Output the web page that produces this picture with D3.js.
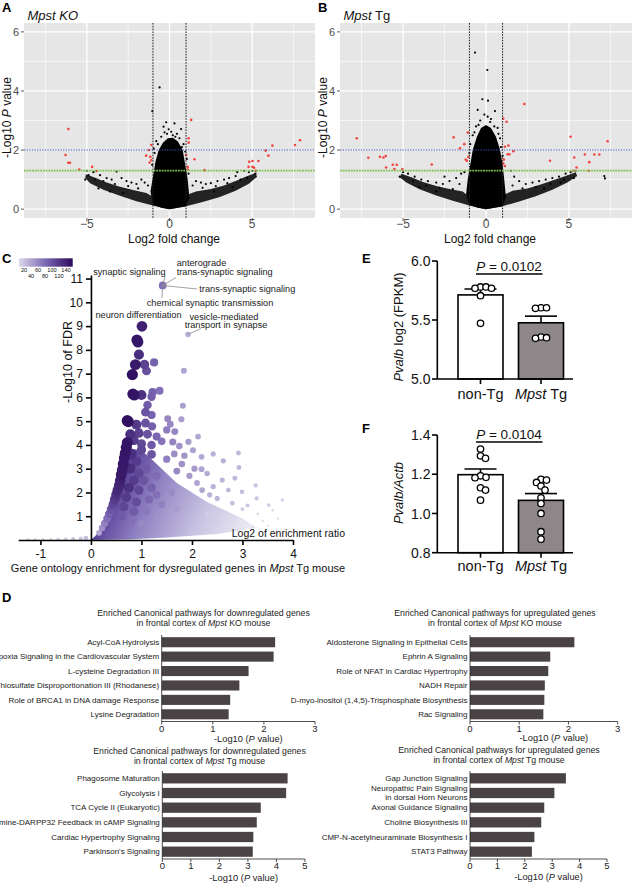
<!DOCTYPE html>
<html><head><meta charset="utf-8">
<script src="https://cdn.jsdelivr.net/npm/d3@7"></script>
<style>body{margin:0;background:#fff}svg{display:block}</style>
</head><body><svg id="chart" width="632" height="885"></svg>
<script>
const FONT='"Liberation Sans", Arial, Helvetica, sans-serif';

// ===================== DATA =====================
// Panel A  (Mpst KO volcano)  [log2FC, -log10 P]
const aRed=[[-6.12,2.71],[-6.29,1.83],[-6.12,1.57],[-6.02,1.57],[-5.46,1.34],[-4.68,1.43],[-4.42,1.29],
 [-1.10,2.17],[-1.24,2.0],[-1.41,1.81],[-1.16,1.77],[-1.20,1.58],[-1.10,1.66],
 [1.31,3.02],[1.16,2.40],[1.16,2.25],[1.51,1.69],[1.10,1.43],[1.10,1.34],[2.11,1.32],[1.0,1.83],
 [6.22,2.15],[7.59,2.17],[7.89,2.33],[5.82,1.98],[5.98,1.81],[5.38,1.63],[4.82,1.60],[5.02,1.63],[5.02,1.43],[5.12,1.40],[4.78,1.43],[5.22,1.30]];
const aBlack=[[-0.6,4.12],[-1.04,3.32],[-0.2,2.94],[-0.36,2.79],[0.3,2.9],[0.7,2.71],[0.2,2.5],[-0.3,2.6],[0.45,2.55],[-0.05,2.7],[0.1,2.62],[-0.5,2.45],[0.6,2.4],[0.85,2.2],[-0.8,2.3],[-0.95,2.05],[0.95,1.95],
 [-0.7,2.2],[0.75,2.1],[-0.15,2.55],[0.35,2.45],[-0.9,1.9],[1.05,1.7],[-1.05,1.5],[1.15,1.2],
 [-3.2,1.27],[-5.0,1.3],[-4.6,1.25],[-4.2,1.15],[-3.8,1.05],[-3.5,1.0],[-2.9,1.05],[-2.6,0.95],[-2.3,0.9],[-2.0,0.85],[-1.7,1.0],[-1.5,0.9],[-4.9,1.15],[-5.1,1.0],[-3.6,0.6],[-2.8,0.55],[-4.3,0.7],
 [-4.0,0.95],[-3.3,0.85],[-2.5,0.78],[-1.9,0.7],[-1.3,0.8],[-4.5,1.0],
 [4.1,1.25],[4.5,1.3],[4.0,1.12],[3.6,1.05],[3.3,1.0],[2.9,0.95],[2.5,0.88],[2.2,0.85],[1.9,0.9],[1.6,0.95],[5.0,1.3],[4.8,1.25],[5.2,1.2],[3.8,0.75],[2.7,0.6],
 [4.3,1.0],[3.5,0.88],[2.8,0.78],[2.0,0.72],[1.4,0.8],[4.7,1.05]];
const aCore=[[0,0],[0.5,0.05],[1.0,0.1],[1.2,0.4],[1.1,1.0],[0.95,1.5],[0.8,2.0],[0.5,2.3],[0.2,2.42],[-0.1,2.4],[-0.4,2.25],[-0.65,2.0],[-0.85,1.6],[-1.0,1.1],[-1.15,0.6],[-1.0,0.15],[-0.5,0.05]];
const aLeftArm=[[0,0],[-1,0.12],[-2,0.27],[-3,0.45],[-4,0.66],[-4.8,0.88],[-5.1,1.05],[-5.05,1.18],[-4.5,1.06],[-3.8,0.9],[-3,0.76],[-2.2,0.65],[-1.4,0.55],[-1.1,0.45]];
const aRightArm=[[0,0],[1,0.1],[2,0.24],[3,0.4],[4,0.62],[4.8,0.86],[5.3,1.1],[5.2,1.22],[4.6,1.1],[4,0.95],[3.3,0.8],[2.5,0.68],[1.6,0.6],[1.15,0.5]];

// Panel B  (Mpst Tg volcano)
const bRed=[[-7.79,2.40],[-7.09,1.74],[-6.39,1.77],[-6.18,1.75],[-6.04,1.80],[-6.02,1.41],[-5.62,1.50],[-5.38,1.50],[-5.52,1.36],[-5.04,1.36],[-3.27,1.51],
 [-1.95,2.43],[-1.10,2.59],[-1.31,2.20],[-1.57,2.06],[-1.22,1.68],[-1.16,1.64],[-1.06,1.77],
 [2.31,3.56],[1.04,3.07],[1.24,2.96],[1.35,2.15],[1.41,1.86],[1.30,1.86],[1.65,1.96],[1.14,2.11],[1.08,1.68],[1.04,1.55],[1.14,1.46],
 [3.86,1.64],[5.10,2.45],[5.32,1.75],[5.96,1.85],[6.53,1.85],[6.83,1.85],[6.22,1.59],[6.20,1.30],[7.33,2.30],[5.46,1.41],[5.26,1.30]];
const bBlack=[[-0.66,5.30],[0.08,4.71],[-0.22,3.72],[0.12,3.67],[-0.5,3.36],[0.54,3.32],[0.1,3.13],[-0.35,3.0],[0.3,3.05],[-0.1,3.2],[0.25,2.95],[-0.6,2.8],[0.7,2.75],[-0.8,2.5],[0.85,2.4],[-0.95,2.2],[0.9,2.1],
 [-0.45,2.85],[0.5,2.8],[-0.7,2.6],[0.75,2.55],[-1.0,1.9],[1.0,1.8],
 [7.13,1.12],[7.17,1.04],
 [-5.0,1.25],[-4.7,1.2],[-4.3,1.1],[-3.9,1.0],[-3.5,0.95],[-3.0,0.9],[-2.6,0.85],[-2.2,0.95],[-1.8,1.05],[-1.5,1.2],[-5.2,1.1],[-4.0,0.75],[-3.0,0.6],[-2.5,1.1],[-1.3,1.25],
 [-4.4,0.95],[-3.6,0.8],[-2.8,0.72],[-2.0,0.68],[-1.6,0.85],
 [5.4,1.3],[5.1,1.25],[4.8,1.2],[4.4,1.1],[4.0,1.05],[3.6,1.0],[3.2,0.95],[2.8,0.9],[2.4,0.85],[2.0,0.95],[1.7,1.1],[4.5,0.9],[3.5,0.7],[5.3,1.05],[1.5,1.3],
 [4.7,1.0],[3.9,0.85],[3.0,0.75],[2.2,0.7],[1.6,0.8]];
const bCore=[[0,0],[0.5,0.05],[1.0,0.1],[1.2,0.4],[1.1,1.0],[1.0,1.5],[0.85,2.0],[0.6,2.45],[0.3,2.75],[0,2.85],[-0.3,2.75],[-0.55,2.45],[-0.8,2.0],[-0.95,1.5],[-1.1,1.0],[-1.2,0.5],[-1.0,0.15],[-0.5,0.05]];
const bLeftArm=[[0,0],[-1,0.12],[-2,0.28],[-3,0.46],[-4,0.67],[-4.8,0.9],[-5.2,1.08],[-5.1,1.2],[-4.5,1.08],[-3.8,0.92],[-3,0.78],[-2.2,0.68],[-1.4,0.6],[-1.1,0.45]];
const bRightArm=[[0,0],[1,0.1],[2,0.26],[3,0.44],[4,0.66],[4.9,0.9],[5.5,1.12],[5.4,1.25],[4.8,1.12],[4,0.97],[3.3,0.83],[2.5,0.7],[1.6,0.62],[1.15,0.5]];

const volcXTicks=[-5,0,5];
const volcYTicks=[0,2,4,6];

// Panel C  GO enrichment  [log2 enrichment ratio, -log10 FDR, gene count]
const goPoints=[
 [1.42,10.71,70],[1.92,8.65,35],[1.01,8.99,132],
 [0.91,8.42,140],[0.93,8.33,138],[0.95,7.8,120],[0.88,7.38,138],[1.06,7.38,105],[1.25,7.47,78],[0.82,6.96,145],[1.1,7.12,92],[1.84,7.12,40],
 [0.83,6.14,142],[0.86,6.1,138],[1.0,6.1,118],[1.2,6.03,82],[1.22,6.22,78],[1.36,6.28,70],
 [1.12,5.68,84],[1.08,5.38,90],[1.2,5.26,78],[1.52,5.1,56],[1.57,4.87,55],[1.82,5.65,42],[1.79,5.08,44],
 [0.72,5.02,145],[0.74,4.98,142],[0.9,4.85,112],[1.08,4.92,92],[1.21,4.78,80],[1.5,4.63,62],[1.66,4.56,56],
 [0.78,4.45,120],[0.95,4.5,105],[1.12,4.45,90],[1.3,4.35,75],[1.4,4.15,68],[1.62,4.12,58],[1.93,4.13,45],[2.12,4.35,38],
 [0.85,4.2,110],[1.0,4.05,98],[1.2,4.0,85],[1.75,3.95,50],[1.65,3.62,52],[1.85,3.55,48],[2.02,3.78,42],[2.19,3.5,38],[2.42,3.62,32],[2.92,3.66,28],
 [1.5,3.4,60],[1.8,3.2,50],[2.05,3.0,45],[2.19,2.98,40],[2.62,3.33,32],[2.93,3.05,28],[2.3,2.8,35],
 [2.85,2.6,28],[2.6,2.52,30],[2.42,2.25,32],[3.26,2.3,22],[2.72,2.1,28],[2.35,1.9,32],[2.99,2.03,25],[3.28,1.75,20],[3.52,1.47,16],[3.79,1.68,14],
 [2.1,2.4,40],[1.95,2.7,45],[1.7,2.9,55],[2.2,2.1,38],[2.5,1.75,30],[2.8,1.55,25],[3.1,1.45,20],[3.0,1.3,18],
 [0.72,4.1,140],[0.7,3.9,142],[0.68,3.65,140],[0.66,3.45,138],[0.64,3.2,140],[0.62,2.95,136],[0.6,2.75,138],[0.58,2.5,132],[0.56,2.3,128],[0.53,2.1,125],[0.5,1.9,118],[0.47,1.7,110],[0.44,1.5,100],[0.4,1.3,90],[0.36,1.1,80],[0.32,0.9,70],[0.27,0.7,60],[0.22,0.5,50],[0.16,0.3,40],
 [0.8,3.6,120],[0.9,3.3,110],[0.78,3.0,120],[0.95,2.8,100],[0.85,2.5,110],[1.05,2.5,90],[0.75,2.2,118],[0.95,2.1,100],[1.2,2.2,80],[0.7,1.8,110],[0.9,1.6,95],[1.15,1.7,75],[0.65,1.4,100],[0.85,1.2,85],[1.1,1.2,65],[1.4,1.5,60],[1.3,1.9,70],[1.6,2.0,55],[0.6,1.0,85],[0.8,0.8,70],[1.0,0.7,55],[1.3,0.9,50],[1.7,1.3,45],[1.1,3.0,85],[1.3,2.7,72],[1.0,3.8,100],[1.2,3.6,88],
 [-0.1,0.08,25],[-0.2,0.06,20],[-0.35,0.05,18],[-0.5,0.04,15],[-0.65,0.03,14],[-0.8,0.03,12],[-0.95,0.02,12],[-1.1,0.02,10],[-1.25,0.02,10],
 [3.3,1.1,8],[3.6,1.25,8],[3.4,0.8,6],[3.7,0.9,6],[3.2,0.55,6],[3.5,0.6,5],[2.9,0.4,6],[2.6,0.9,12],[2.3,1.1,15]];
// dense wedge outline of overlapping small terms
const goWedge=[[0,0],[0.1,0.2],[0.2,0.5],[0.3,0.8],[0.4,1.2],[0.5,1.8],[0.58,2.5],[0.65,3.2],[0.72,3.8],[0.8,3.85],[1.0,3.75],[1.15,3.5],[1.3,3.2],[1.5,2.8],[1.7,2.4],[2.0,2.0],[2.3,1.6],[2.6,1.3],[3.0,0.9],[3.3,0.5],[2.5,0.25],[1.5,0.1],[0.8,0.03]];
const goXTicks=[-1,0,1,2,3,4];
const goYTicks=[1,2,3,4,5,6,7,8,9,10,11];
const goLegendTicks=[20,40,60,80,100,120,140];

// Panel E
const eGroups=["non-Tg","Mpst Tg"];
const eNonTg=[5.78,5.78,5.769,5.769,5.706,5.472];
const eTg=[5.604,5.604,5.599,5.356,5.35,5.345];
const eTicks=[5.0,5.5,6.0];
// Panel F
const fNonTg=[1.3286,1.294,1.281,1.192,1.184,1.182,1.131,1.119,1.068];
const fTg=[1.174,1.170,1.158,1.140,1.119,1.080,1.051,1.0,0.907,0.869];
const fTicks=[0.8,1.0,1.2,1.4];

// Panel D
const d1Labels=["Acyl-CoA Hydrolysis","Hypoxia Signaling in the Cardiovascular System","L-cysteine Degradation III","Thiosulfate Disproportionation III (Rhodanese)","Role of BRCA1 in DNA damage Response","Lysine Degradation"];
const d1Values=[2.22,2.19,1.70,1.52,1.34,1.31];
const d2Labels=["Aldosterone Signaling in Epithelial Cells","Ephrin A Signaling","Role of NFAT in Cardiac Hypertrophy","NADH Repair","D-myo-inositol (1,4,5)-Trisphosphate Biosynthesis","Rac Signaling"];
const d2Values=[2.12,1.63,1.59,1.52,1.51,1.49];
const d3Labels=["Phagosome Maturation","Glycolysis I","TCA Cycle II (Eukaryotic)","Dopamine-DARPP32 Feedback in cAMP Signaling","Cardiac Hypertrophy Signaling","Parkinson's Signaling"];
const d3Values=[4.39,4.34,3.45,3.31,3.19,3.17];
const d4Labels=["Gap Junction Signaling","Neuropathic Pain Signaling\nin dorsal Horn Neurons","Axonal Guidance Signaling","Choline Biosynthesis III","CMP-N-acetylneuraminate Biosynthesis I","STAT3 Pathway"];
const d4Values=[3.50,3.08,2.71,2.60,2.35,2.26];

// ===================== DRAWING =====================
const svg=d3.select("#chart").style("font-family",FONT);
svg.append("rect").attr("width",632).attr("height",885).attr("fill","#fff");

function richText(sel, parts){ // parts: [text, italic]
  parts.forEach(p=>sel.append("tspan").text(p[0]).attr("font-style",p[1]?"italic":"normal"));
  return sel;
}
function panelLetter(t,x,y){
  svg.append("text").attr("x",x).attr("y",y).attr("font-size",13).attr("font-weight","bold").text(t);
}

function volcano(o){
  const x=d3.scaleLinear().domain([-8.8,8.8]).range([o.x0,o.x1]);
  const y=d3.scaleLinear().domain([-0.3,6.3]).range([218,23]);
  const g=svg.append("g");
  g.append("clipPath").attr("id","clip"+o.key).append("rect")
    .attr("x",o.x0).attr("y",23).attr("width",o.x1-o.x0).attr("height",195);
  g.append("rect").attr("x",o.x0).attr("y",23).attr("width",o.x1-o.x0).attr("height",195).attr("fill","#e6e6e6");
  const p=g.append("g").attr("clip-path",`url(#clip${o.key})`);
  const minorX=[-7.5,-2.5,2.5,7.5], minorY=[1,3,5];
  p.selectAll(".mx").data(minorX).join("line").attr("x1",d=>x(d)).attr("x2",d=>x(d)).attr("y1",23).attr("y2",218).attr("stroke","#fff").attr("stroke-width",0.6);
  p.selectAll(".my").data(minorY).join("line").attr("y1",d=>y(d)).attr("y2",d=>y(d)).attr("x1",o.x0).attr("x2",o.x1).attr("stroke","#fff").attr("stroke-width",0.6);
  p.selectAll(".Mx").data(volcXTicks).join("line").attr("x1",d=>x(d)).attr("x2",d=>x(d)).attr("y1",23).attr("y2",218).attr("stroke","#fff").attr("stroke-width",1.3);
  p.selectAll(".My").data(volcYTicks).join("line").attr("y1",d=>y(d)).attr("y2",d=>y(d)).attr("x1",o.x0).attr("x2",o.x1).attr("stroke","#fff").attr("stroke-width",1.3);
  const line=d3.line().x(d=>x(d[0])).y(d=>y(d[1]));
  [o.left,o.right].forEach(a=>p.append("path").attr("d",line(a)+"Z").attr("fill","#000").attr("fill-opacity",0.85));
  p.append("path").attr("d",line(o.core)+"Z").attr("fill","#000");
  p.selectAll(".bk").data(o.black).join("circle").attr("cx",d=>x(d[0])).attr("cy",d=>y(d[1])).attr("r",1.1).attr("fill","#000");
  p.selectAll(".rd").data(o.red).join("circle").attr("cx",d=>x(d[0])).attr("cy",d=>y(d[1])).attr("r",1.3).attr("fill","#f2443f");
  // thresholds
  [-1,1].forEach(v=>p.append("line").attr("x1",x(v)).attr("x2",x(v)).attr("y1",23).attr("y2",218).attr("stroke","#222").attr("stroke-width",1).attr("stroke-dasharray","1.6,1.2"));
  p.append("line").attr("x1",o.x0).attr("x2",o.x1).attr("y1",y(2)).attr("y2",y(2)).attr("stroke","#3d4aa8").attr("stroke-width",1.1).attr("stroke-dasharray","1.4,1.2");
  p.append("line").attr("x1",o.x0).attr("x2",o.x1).attr("y1",y(-Math.log10(0.05))).attr("y2",y(-Math.log10(0.05))).attr("stroke","#7cc24e").attr("stroke-width",1.8).attr("stroke-dasharray","1.8,0.9");
  // ticks
  volcYTicks.forEach(t=>{
    g.append("line").attr("x1",o.x0-3).attr("x2",o.x0).attr("y1",y(t)).attr("y2",y(t)).attr("stroke","#333").attr("stroke-width",0.8);
    g.append("text").attr("x",o.x0-5).attr("y",y(t)).attr("dy","0.36em").attr("text-anchor","end").attr("font-size",11).attr("fill","#4d4d4d").text(t);
  });
  volcXTicks.forEach(t=>{
    g.append("line").attr("x1",x(t)).attr("x2",x(t)).attr("y1",218).attr("y2",221).attr("stroke","#333").attr("stroke-width",0.8);
    g.append("text").attr("x",x(t)).attr("y",228).attr("text-anchor","middle").attr("font-size",12).attr("fill","#4d4d4d").text(t<0?"\u2212"+(-t):t);
  });
  g.append("text").attr("x",o.x0+150).attr("y",242.5).attr("text-anchor","middle").attr("font-size",12).attr("fill","#111").text("Log2 fold change");
  richText(g.append("text").attr("transform",`translate(${o.x0-13},117.5) rotate(-90)`).attr("text-anchor","middle").attr("font-size",12).attr("fill","#111"),
    [["-Log10 ",false],["P",true],[" value",false]]);
  richText(g.append("text").attr("x",o.x0+3.5).attr("y",20).attr("font-size",13).attr("fill","#111"),o.title);
}
volcano({key:"A",x0:24,x1:315,core:aCore,left:aLeftArm,right:aRightArm,black:aBlack,red:aRed,title:[["Mpst KO",true]]});
volcano({key:"B",x0:340,x1:632,core:bCore,left:bLeftArm,right:bRightArm,black:bBlack,red:bRed,title:[["Mpst",true],[" Tg",false]]});
panelLetter("A",2,12);
panelLetter("B",318,12);

// ---------- Panel C ----------
(function(){
  const x=d3.scaleLinear().domain([-1.44,4]).range([18.2,293]);
  const y=d3.scaleLinear().domain([0,11.15]).range([540,275]);
  const col=d3.scaleLinear().domain([10,75,150]).range(["#dcd8eb","#7a66b3","#2c0a5c"]).clamp(true);
  const rad=d3.scaleSqrt().domain([0,140]).range([0,5.5]);
  const g=svg.append("g");
  const defs=svg.append("defs");
  const wg=defs.append("linearGradient").attr("id","wedgeGrad").attr("gradientUnits","userSpaceOnUse")
    .attr("x1",x(0.5)).attr("y1",y(3)).attr("x2",x(3.2)).attr("y2",y(0.3));
  wg.append("stop").attr("offset",0).attr("stop-color","#4f3291");
  wg.append("stop").attr("offset",0.3).attr("stop-color","#8f82c2");
  wg.append("stop").attr("offset",0.65).attr("stop-color","#c9c3e2");
  wg.append("stop").attr("offset",1).attr("stop-color","#f0eef7");
  const line=d3.line().x(d=>x(d[0])).y(d=>y(d[1]));
  g.append("path").attr("d",line(goWedge)+"Z").attr("fill","url(#wedgeGrad)");
  const pts=goPoints.slice().sort((a,b)=>a[2]-b[2]);
  g.selectAll(".go").data(pts).join("circle").attr("cx",d=>x(d[0])).attr("cy",d=>y(d[1])).attr("r",d=>rad(d[2])).attr("fill",d=>col(d[2]));
  // axes
  const ya=g.append("g").attr("transform",`translate(${x(0)},0)`).call(d3.axisLeft(y).tickValues(goYTicks).tickSize(5).tickSizeOuter(0).tickPadding(3));
  const xa=g.append("g").attr("transform",`translate(0,${y(0)})`).call(d3.axisBottom(x).tickValues(goXTicks).tickSize(5).tickSizeOuter(0).tickPadding(4).tickFormat(d=>d<0?"-"+(-d):d));
  [ya,xa].forEach(a=>{a.selectAll("path,line").attr("stroke","#000").attr("stroke-width",1.6);a.selectAll("text").attr("font-size",12).attr("font-family",FONT).attr("fill","#111");});
  g.append("text").attr("transform",`translate(72,362) rotate(-90)`).attr("text-anchor","middle").attr("font-size",12.5).attr("fill","#111").text("-Log10 of FDR");
  g.append("text").attr("x",345).attr("y",536.5).attr("text-anchor","end").attr("font-size",10.5).attr("fill","#111").text("Log2 of enrichment ratio");
  richText(g.append("text").attr("x",178).attr("y",572).attr("text-anchor","middle").attr("font-size",11).attr("fill","#111"),
    [["Gene ontology enrichment for dysregulated genes in ",false],["Mpst",true],[" Tg mouse",false]]);
  // colour legend
  const lg=defs.append("linearGradient").attr("id","legGrad");
  lg.append("stop").attr("offset",0).attr("stop-color",col(10));
  lg.append("stop").attr("offset",0.5).attr("stop-color",col(75));
  lg.append("stop").attr("offset",1).attr("stop-color",col(150));
  g.append("rect").attr("x",19).attr("y",258.3).attr("width",53.7).attr("height",8.4).attr("fill","url(#legGrad)");
  const lx=d3.scaleLinear().domain([20,140]).range([24,66]);
  goLegendTicks.forEach((t,i)=>g.append("text").attr("x",lx(t)).attr("y",i%2?277.5:271.5).attr("text-anchor","middle").attr("font-size",5.6).attr("fill","#111").text(t));
  // annotations
  const A=[x(1.42),y(10.71)], V=[x(1.92),y(8.65)];
  const lines=[[A,[165,276]],[A,[176,277.5]],[A,[197,289]],[A,[162,298]],[V,[201,328.5]]];
  lines.forEach(l=>g.append("line").attr("x1",l[0][0]).attr("y1",l[0][1]).attr("x2",l[1][0]).attr("y2",l[1][1]).attr("stroke","#8a8a8a").attr("stroke-width",0.8));
  const ann=[["synaptic signaling",165.7,275,"end"],["anterograde",176.7,266,"start"],["trans-synaptic signaling",176.7,274.5,"start"],
    ["trans-synaptic signaling",199.3,292,"start"],["chemical synaptic transmission",146.7,306,"start"],["neuron differentiation",138.5,317.5,"middle"],
    ["vesicle-mediated",224,319.5,"middle"],["transport in synapse",226,328,"middle"]];
  ann.forEach(a=>g.append("text").attr("x",a[1]).attr("y",a[2]).attr("text-anchor",a[3]).attr("font-size",9.2).attr("fill","#222").text(a[0]));
})();
panelLetter("C",2,263);

// ---------- Panels E, F ----------
function swarm(vals,ys,r){
  const placed=[];
  return vals.map(v=>{
    const py=ys(v); let best=0;
    for(let k=0;k<400;k++){
      const off=(k%2?1:-1)*Math.ceil(k/2)*0.5;
      if(placed.every(p=>Math.hypot(p[0]-off,p[1]-py)>=2*r*0.85)){best=off;break;}
    }
    placed.push([best,py]); return [best,py];
  });
}
function dotbar(o){
  const y=d3.scaleLinear().domain(o.domain).range(o.range);
  const x=d3.scalePoint().domain(eGroups).range([480.5,541]);
  const g=svg.append("g");
  const bw=45, r=3.2, base=o.range[0];
  const groups=[o.a,o.b], fills=["#fff","#8d8789"];
  groups.forEach((vals,i)=>{
    const cx=x(eGroups[i]);
    const m=d3.mean(vals), sem=d3.deviation(vals)/Math.sqrt(vals.length);
    g.append("rect").attr("x",cx-bw/2).attr("y",y(m)).attr("width",bw).attr("height",base-y(m)).attr("fill",fills[i]).attr("stroke","#000").attr("stroke-width",1.6);
    g.append("line").attr("x1",cx).attr("x2",cx).attr("y1",y(m)).attr("y2",y(m+sem)).attr("stroke","#000").attr("stroke-width",1.6);
    g.append("line").attr("x1",cx-16).attr("x2",cx+16).attr("y1",y(m+sem)).attr("y2",y(m+sem)).attr("stroke","#000").attr("stroke-width",1.6);
    swarm(vals,y,r).forEach(p=>g.append("circle").attr("cx",cx+p[0]).attr("cy",p[1]).attr("r",r).attr("fill","#fff").attr("stroke","#000").attr("stroke-width",1.3));
  });
  // axes
  g.append("line").attr("x1",437.3).attr("x2",437.3).attr("y1",o.range[1]).attr("y2",base).attr("stroke","#000").attr("stroke-width",1.6);
  g.append("line").attr("x1",437.3).attr("x2",573).attr("y1",base).attr("y2",base).attr("stroke","#000").attr("stroke-width",1.6);
  o.ticks.forEach(t=>{
    g.append("line").attr("x1",432).attr("x2",437.3).attr("y1",y(t)).attr("y2",y(t)).attr("stroke","#000").attr("stroke-width",1.6);
    g.append("text").attr("x",430.5).attr("y",y(t)).attr("dy","0.36em").attr("text-anchor","end").attr("font-size",14).attr("fill","#111").text(t.toFixed(1));
  });
  eGroups.forEach((c,i)=>{
    g.append("line").attr("x1",x(c)).attr("x2",x(c)).attr("y1",base).attr("y2",base+5).attr("stroke","#000").attr("stroke-width",1.6);
    const t=g.append("text").attr("x",x(c)).attr("y",base+o.labDy).attr("text-anchor","middle").attr("font-size",14.5).attr("fill","#111");
    if(i===0) t.text(c); else richText(t,[["Mpst",true],[" Tg",false]]);
  });
  g.append("line").attr("x1",476).attr("x2",542.5).attr("y1",o.pY).attr("y2",o.pY).attr("stroke","#000").attr("stroke-width",1.3);
  richText(g.append("text").attr("x",509).attr("y",o.pY-3).attr("text-anchor","middle").attr("font-size",13.5).attr("fill","#111"),[["P",true],[" = "+o.p,false]]);
  richText(g.append("text").attr("transform",`translate(403,${o.ylabY}) rotate(-90)`).attr("text-anchor","middle").attr("font-size",13).attr("fill","#111"),o.ylab);
}
dotbar({a:eNonTg,b:eTg,domain:[5,6],range:[379,261],ticks:eTicks,labDy:20,pY:274,p:"0.0102",ylabY:327,ylab:[["Pvalb",true],[" log2 (FPKM)",false]]});
dotbar({a:fNonTg,b:fTg,domain:[0.8,1.4],range:[552.7,435],ticks:fTicks,labDy:18.5,pY:442,p:"0.0104",ylabY:493,ylab:[["Pvalb/Actb",true]]});
panelLetter("E",362,263);
panelLetter("F",362,433);

// ---------- Panel D ----------
function hbar(o){
  const x=d3.scaleLinear().domain([0,o.max]).range([o.x0,o.x1]);
  const y=d3.scaleBand().domain(o.labels).range([o.y0,o.y1]).paddingInner(0.3).paddingOuter(0.15);
  const g=svg.append("g");
  g.selectAll(".b").data(o.labels).join("rect").attr("x",x(0)).attr("y",d=>y(d)).attr("width",(d,i)=>x(o.values[i])-x(0)).attr("height",y.bandwidth()).attr("fill","#4a4346");
  o.labels.forEach(l=>{
    const lines=l.split("\n");
    lines.forEach((s,j)=>g.append("text").attr("x",o.x0-2.5).attr("y",y(l)+y.bandwidth()/2+(j-(lines.length-1)/2)*9).attr("dy","0.35em").attr("text-anchor","end").attr("font-size",8).attr("fill","#222").text(s));
  });
  g.append("line").attr("x1",o.x0).attr("x2",o.x0).attr("y1",o.y0).attr("y2",o.y1).attr("stroke","#222").attr("stroke-width",0.8);
  g.append("line").attr("x1",o.x0).attr("x2",o.x1).attr("y1",o.y1).attr("y2",o.y1).attr("stroke","#222").attr("stroke-width",0.8);
  d3.range(0,o.max+1).forEach(t=>{
    g.append("line").attr("x1",x(t)).attr("x2",x(t)).attr("y1",o.y1).attr("y2",o.y1+3).attr("stroke","#222").attr("stroke-width",0.8);
    g.append("text").attr("x",x(t)).attr("y",o.y1+10).attr("text-anchor","middle").attr("font-size",9.5).attr("fill","#222").text(t);
  });
  richText(g.append("text").attr("x",(o.x0+o.x1)/2+10).attr("y",o.atY).attr("text-anchor","middle").attr("font-size",9.3).attr("fill","#222"),
    [["-Log10 (",false],["P",true],[" value)",false]]);
  g.append("text").attr("x",o.tcx).attr("y",o.ty).attr("text-anchor","middle").attr("font-size",8.7).attr("fill","#222").text(o.title1);
  richText(g.append("text").attr("x",o.tcx).attr("y",o.ty+10).attr("text-anchor","middle").attr("font-size",8.7).attr("fill","#222"),
    [["in frontal cortex of ",false],["Mpst",true],[o.title2,false]]);
}
hbar({labels:d1Labels,values:d1Values,max:3,x0:161.7,x1:315,y0:635,y1:721.5,atY:741.5,tcx:203.5,ty:616,title1:"Enriched Canonical pathways for downregulated genes",title2:" KO mouse"});
hbar({labels:d2Labels,values:d2Values,max:3,x0:470,x1:617.7,y0:635,y1:721.5,atY:741,tcx:495,ty:616,title1:"Enriched Canonical pathways for upregulated genes",title2:" KO mouse"});
hbar({labels:d3Labels,values:d3Values,max:5,x0:162.3,x1:305,y0:771,y1:859,atY:881,tcx:199.5,ty:753.5,title1:"Enriched Canonical pathways for downregulated genes",title2:" Tg mouse"});
hbar({labels:d4Labels,values:d4Values,max:5,x0:470,x1:607,y0:771,y1:859,atY:880,tcx:499,ty:752.5,title1:"Enriched Canonical pathways for upregulated genes",title2:" Tg mouse"});
panelLetter("D",2,602);
</script></body></html>
